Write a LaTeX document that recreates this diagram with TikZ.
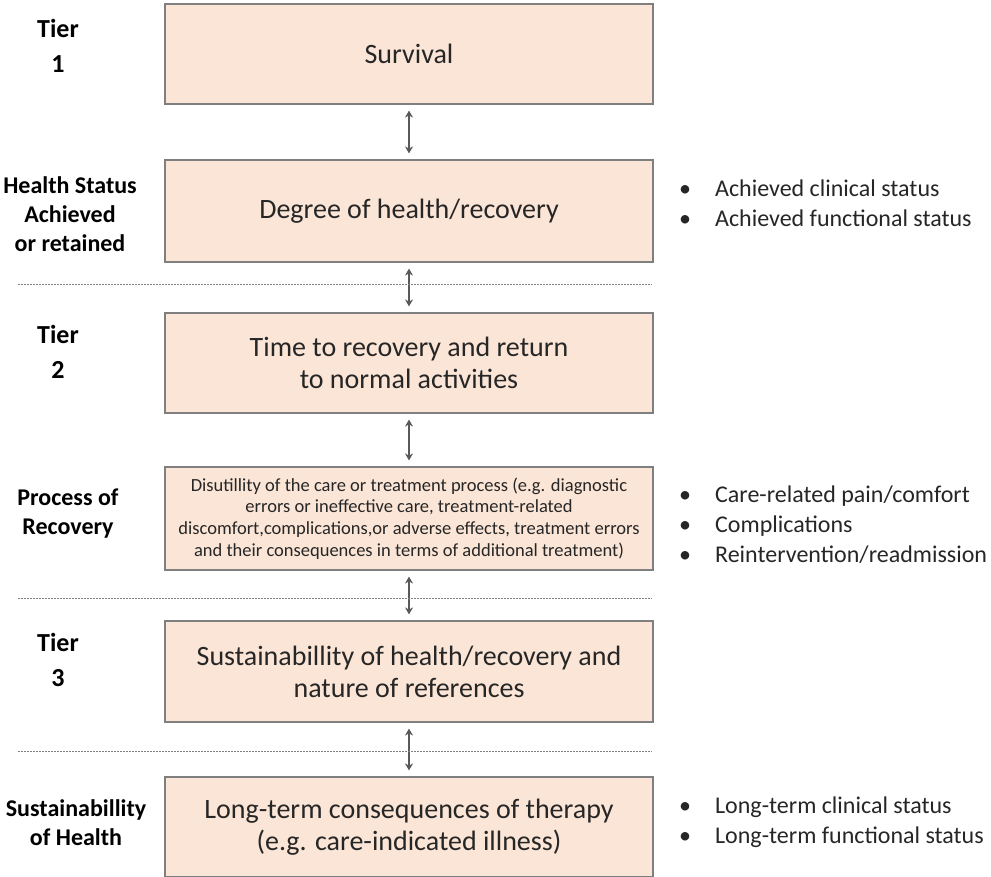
\documentclass[tikz,border=0pt]{standalone}
\usepackage{fontspec}
\setmainfont{Carlito}
\usetikzlibrary{arrows.meta}
\definecolor{boxfill}{HTML}{FBE5D6}
\definecolor{boxline}{HTML}{7F7F7F}
\definecolor{txt}{HTML}{262626}
\definecolor{arr}{HTML}{595959}
\tikzset{
  tierbox/.style={draw=boxline, line width=1.2pt, fill=boxfill, minimum width=488pt, inner sep=4pt, align=center, text=txt, font=\fontsize{28}{32}\selectfont},
  sidelabel/.style={align=center, font=\bfseries\fontsize{24}{29}\selectfont, text=black},
  tierlabel/.style={align=center, font=\bfseries\fontsize{26}{35}\selectfont, text=black},
  bullets/.style={anchor=west, align=left, text=txt, font=\fontsize{24}{30}\selectfont, inner sep=0pt},
  twoway/.style={{Stealth[length=7pt,width=8pt]}-{Stealth[length=7pt,width=8pt]}, draw=arr, line width=1.1pt, shorten <=6pt, shorten >=6pt},
  sep/.style={draw=boxline, line width=0.7pt, dash pattern=on 2pt off 1pt}
}
\newcommand{\blist}[1]{\begin{tabular}{@{}l@{\hspace{24pt}}l@{}}#1\end{tabular}}
\begin{document}
\begin{tikzpicture}[x=1pt,y=-1pt]
\useasboundingbox (0,0) rectangle (991,877);
\clip (0,0) rectangle (991,877);
% boxes
\node[tierbox, minimum height=100pt] (b1) at (409,54) {Survival};
\node[tierbox, minimum height=102pt] (b2) at (409,211) {Degree of health/recovery};
\node[tierbox, minimum height=100pt] (b3) at (409,363) {Time to recovery and return\\to normal activities};
\node[tierbox, minimum height=103pt, font=\fontsize{18.5}{21.7}\selectfont] (b4) at (409,518.5) {Disutillity of the care or treatment process (e.g. diagnostic\\errors or ineffective care, treatment-related\\discomfort,complications,or adverse effects, treatment errors\\and their consequences in terms of additional treatment)};
\node[tierbox, minimum height=101pt] (b5) at (409,671.5) {Sustainabillity of health/recovery and\\nature of references};
\node[tierbox, minimum height=100pt] (b6) at (409,827) {Long-term consequences of therapy\\(e.g. care-indicated illness)};
% arrows
\draw[twoway] (b1.south) -- (b2.north);
\draw[twoway] (b2.south) -- (b3.north);
\draw[twoway] (b3.south) -- (b4.north);
\draw[twoway] (b4.south) -- (b5.north);
\draw[twoway] (b5.south) -- (b6.north);
% separators
\coordinate (s1a) at (18,284); \coordinate (s1b) at (652,284);
\coordinate (s2a) at (18,598); \coordinate (s2b) at (652,598);
\coordinate (s3a) at (18,751); \coordinate (s3b) at (652,751);
\draw[sep] (s1a) -- (s1b);
\draw[sep] (s2a) -- (s2b);
\draw[sep] (s3a) -- (s3b);
% left labels
\node[tierlabel] (t1) at (58,46) {Tier\\1};
\node[sidelabel] (l1) at (70,214) {Health Status\\Achieved\\or retained};
\node[tierlabel] (t2) at (58,352) {Tier\\2};
\node[sidelabel] (l2) at (68,514) {Process of\\Recovery};
\node[tierlabel] (t3) at (58,660) {Tier\\3};
\node[sidelabel] (l3) at (76,823) {Sustainabillity\\of Health};
% bullet lists
\node[bullets] (r1) at (679,206) {\blist{\textbullet & Achieved clinical status\\ \textbullet & Achieved functional status}};
\node[bullets] (r2) at (679,526.5) {\blist{\textbullet & Care-related pain/comfort\\ \textbullet & Complications\\ \textbullet & Reintervention/readmission}};
\node[bullets] (r3) at (679,822) {\blist{\textbullet & Long-term clinical status\\ \textbullet & Long-term functional status}};
\end{tikzpicture}
\end{document}
